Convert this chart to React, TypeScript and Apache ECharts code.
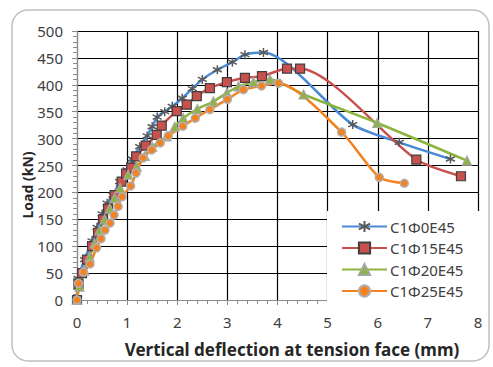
import React, { useEffect, useRef } from "react";
import * as echarts from "echarts";

const seriesNames = ["C1Φ0E45", "C1Φ15E45", "C1Φ20E45", "C1Φ25E45"];

const blue: [number, number][] = [
  [0, 0], [0.02, 40], [0.15, 75], [0.3, 110], [0.4, 135], [0.5, 160], [0.6, 180],
  [0.72, 195], [0.85, 220], [1.0, 242], [1.1, 262], [1.25, 285], [1.4, 305],
  [1.5, 322], [1.6, 340], [1.75, 350], [1.9, 360], [2.1, 375], [2.3, 393],
  [2.5, 410], [2.8, 428], [3.1, 442], [3.35, 456], [3.72, 460], [5.5, 326],
  [6.43, 293], [7.45, 262],
];
const red: [number, number][] = [
  [0, 0], [0.03, 30], [0.1, 50], [0.2, 75], [0.3, 100], [0.42, 125], [0.52, 150],
  [0.62, 170], [0.75, 195], [0.89, 220], [0.98, 235], [1.08, 246], [1.18, 267],
  [1.37, 287], [1.59, 307], [1.69, 324], [1.99, 351], [2.19, 363], [2.39, 379],
  [2.65, 394], [2.99, 405], [3.35, 413], [3.69, 416], [4.19, 430], [4.45, 430],
  [6.77, 261], [7.66, 230],
];
const green: [number, number][] = [
  [0, 0], [0.05, 25], [0.15, 55], [0.25, 80], [0.35, 105], [0.45, 130], [0.55, 150],
  [0.65, 170], [0.75, 190], [0.86, 208], [1.02, 233], [1.19, 248], [1.35, 268],
  [1.5, 285], [1.79, 304], [1.95, 322], [2.12, 338], [2.4, 355], [2.72, 369],
  [2.99, 385], [3.22, 397], [3.52, 405], [3.85, 410], [4.52, 382], [5.99, 329],
  [7.78, 259],
];
const orange: [number, number][] = [
  [0, 0], [0.03, 31], [0.13, 52], [0.26, 67], [0.39, 97], [0.48, 114], [0.56, 130],
  [0.66, 143], [0.74, 158], [0.82, 174], [0.9, 192], [1.07, 212], [1.18, 236],
  [1.32, 264], [1.49, 279], [1.66, 292], [1.82, 305], [2.11, 323], [2.36, 338],
  [2.65, 354], [3.0, 373], [3.32, 391], [3.68, 398], [4.02, 403], [5.28, 312],
  [6.03, 228], [6.53, 217],
];

const xTitle = "Vertical deflection at tension face (mm)";
const yTitle = "Load (kN)";

const FONT = "'Noto Sans', sans-serif";
const ASTERISK = "path://M5,0 L5,10 M0.67,2.5 L9.33,7.5 M0.67,7.5 L9.33,2.5";

export default function App() {
  const ref = useRef<HTMLDivElement>(null);
  useEffect(() => {
    if (!ref.current) return;
    const chart = echarts.init(ref.current, undefined, { renderer: "svg" });
    const mk = (
      name: string,
      data: [number, number][],
      color: string,
      symbol: string,
      size: number,
      fill: string,
      border: string,
      bw: number
    ) => ({
      name,
      type: "line",
      data,
      smooth: 0.25,
      symbol,
      symbolSize: size,
      lineStyle: { color, width: 2.5 },
      itemStyle: { color: fill, borderColor: border, borderWidth: bw },
      emphasis: { disabled: true },
    });
    chart.setOption({
      animation: false,
      backgroundColor: "#ffffff",
      grid: { left: 77, right: 15, top: 31, bottom: 67 },
      xAxis: {
        type: "value",
        min: 0,
        max: 8,
        interval: 1,
        axisLine: { show: true, lineStyle: { color: "#8c8c8c", width: 1 } },
        axisTick: { show: true, inside: false, length: 5, lineStyle: { color: "#8c8c8c" } },
        minorTick: { show: true, splitNumber: 5, length: 4, lineStyle: { color: "#8c8c8c" } },
        splitLine: { show: true, lineStyle: { color: "#000000", width: 1.2 } },
        axisLabel: { color: "#404040", fontSize: 15, fontFamily: FONT, margin: 14 },
      },
      yAxis: {
        type: "value",
        min: 0,
        max: 500,
        interval: 50,
        axisLine: { show: true, lineStyle: { color: "#8c8c8c", width: 1 } },
        axisTick: { show: true, inside: false, length: 5, lineStyle: { color: "#8c8c8c" } },
        minorTick: { show: true, splitNumber: 5, length: 4, lineStyle: { color: "#8c8c8c" } },
        splitLine: { show: true, lineStyle: { color: "#000000", width: 1.2 } },
        axisLabel: { color: "#404040", fontSize: 15, fontFamily: FONT, margin: 14 },
      },
      legend: {
        data: seriesNames,
        orient: "vertical",
        left: 327,
        top: 211,
        itemWidth: 45,
        itemHeight: 14,
        itemGap: 6.5,
        padding: [8, 22, 8, 14],
        backgroundColor: "#ffffff",
        textStyle: { color: "#404040", fontSize: 15, fontFamily: FONT, padding: [0, 0, 0, -2] },
      },
      graphic: [
        {
          type: "rect",
          silent: true,
          z: -10,
          shape: { x: 12, y: 10, width: 477, height: 351, r: 16 },
          style: { fill: "none", stroke: "#bfbfbf", lineWidth: 1.5 },
        },
        {
          type: "text",
          x: 292,
          y: 349,
          style: {
            text: xTitle,
            fontSize: 17,
            fontWeight: "bold",
            fontFamily: FONT,
            fill: "#262626",
            textAlign: "center",
            textVerticalAlign: "middle",
          },
        },
        {
          type: "text",
          x: 27,
          y: 185,
          rotation: Math.PI / 2,
          style: {
            text: yTitle,
            fontSize: 14,
            fontWeight: "bold",
            fontFamily: FONT,
            fill: "#262626",
            textAlign: "center",
            textVerticalAlign: "middle",
          },
        },
      ],
      series: [
        mk(seriesNames[0], blue, "#4a8ad4", ASTERISK, 9, "#595959", "#595959", 1.5),
        mk(seriesNames[1], red, "#c8504d", "rect", 9, "#c8504d", "#404040", 1.2),
        mk(seriesNames[2], green, "#8db43e", "triangle", 9, "#8db43e", "#a6a6a6", 1.2),
        mk(seriesNames[3], orange, "#f58220", "circle", 8, "#f58220", "#b0b0b0", 1.5),
      ],
    });
    return () => chart.dispose();
  }, []);
  return (
    <div
      ref={ref}
      style={{ position: "fixed", left: 0, top: 0, width: 493, height: 367 }}
    />
  );
}
